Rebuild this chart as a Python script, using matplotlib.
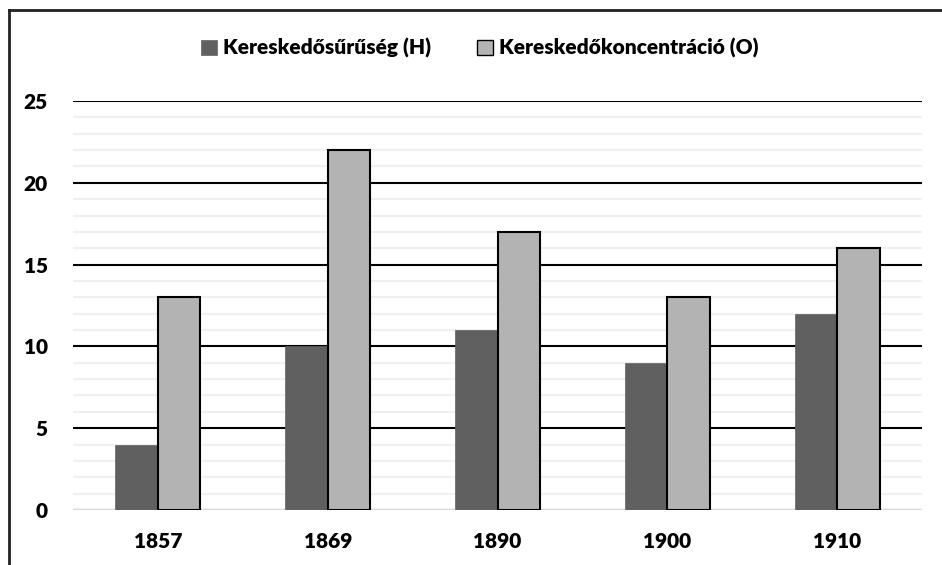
import numpy as np
import matplotlib
matplotlib.use("Agg")
import matplotlib.pyplot as plt
from matplotlib.lines import Line2D

plt.rcParams['font.family'] = ['Lato', 'DejaVu Sans']
plt.rcParams['font.weight'] = 'heavy'

years = ['1857', '1869', '1890', '1900', '1910']
suruseg = [4, 10, 11, 9, 12]
koncentracio = [13, 22, 17, 13, 16]
labels = ['Kereskedősűrűség (H)', 'Kereskedőkoncentráció (O)']

fig = plt.figure(figsize=(9.42, 5.65), dpi=100)
ax = fig.add_axes([73/942, 55/565, 849/942, 409/565])

x = np.arange(len(years))
w = 0.25
ax.bar(x - w/2, suruseg, w, color='#606060', edgecolor='#606060', linewidth=0.5,
       label=labels[0], zorder=3)
ax.bar(x + w/2, koncentracio, w, color='#b3b3b3', edgecolor='black', linewidth=1.5,
       label=labels[1], zorder=3)

ax.set_xlim(-0.5, len(years) - 0.5)
ax.set_ylim(0, 25)
ax.set_yticks(range(0, 26, 5))
ax.set_yticks(range(0, 26), minor=True)
ax.grid(axis='y', which='minor', color='#f0f0f0', linewidth=1.5, zorder=0)
ax.grid(axis='y', which='major', color='black', linewidth=1.5, zorder=1)
ax.axhline(0, color='#d9d9d9', linewidth=1.5, zorder=2)
for s in ax.spines.values():
    s.set_visible(False)
ax.set_xticks(x)
ax.set_xticklabels(years)
ax.tick_params(axis='both', which='both', length=0, labelsize=15)
ax.tick_params(axis='y', pad=18)
ax.tick_params(axis='x', pad=16)

leg = fig.legend(loc='center', bbox_to_anchor=(480/942, 1 - 48/565), ncol=2,
                 frameon=False, fontsize=15, handlelength=0.75, handleheight=0.75,
                 handletextpad=0.3, columnspacing=2.2)
leg.legend_handles[1].set_linewidth(1.0)

# chart frame (top and left edges visible)
fig.add_artist(Line2D([8.5/942, 1.0], [1 - 10/565, 1 - 10/565], color='#222222', lw=2))
fig.add_artist(Line2D([8.5/942, 8.5/942], [0, 1 - 10/565], color='#222222', lw=2))

fig.savefig('out.png', dpi=100)
